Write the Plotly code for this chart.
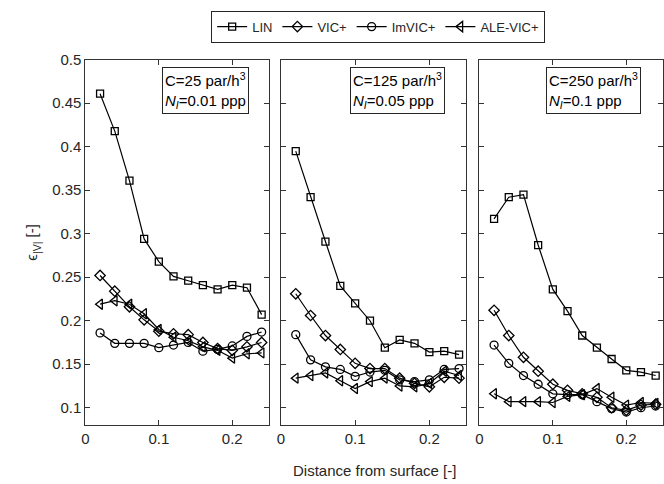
import plotly.graph_objects as go

x_vals = [0.02, 0.04, 0.06, 0.08, 0.10, 0.12, 0.14, 0.16, 0.18, 0.20, 0.22, 0.24]
series_names = ["LIN", "VIC+", "ImVIC+", "ALE-VIC+"]

# Panel 1: C=25 par/h^3, N_I=0.01 ppp
p1_lin = [0.461, 0.418, 0.361, 0.294, 0.268, 0.251, 0.246, 0.241, 0.236, 0.241, 0.238, 0.207]
p1_vic = [0.252, 0.234, 0.216, 0.201, 0.188, 0.185, 0.184, 0.175, 0.168, 0.166, 0.170, 0.175]
p1_imvic = [0.186, 0.174, 0.174, 0.174, 0.169, 0.172, 0.175, 0.165, 0.167, 0.171, 0.182, 0.187]
p1_ale = [0.219, 0.223, 0.219, 0.208, 0.190, 0.181, 0.177, 0.170, 0.166, 0.157, 0.162, 0.163]

# Panel 2: C=125 par/h^3, N_I=0.05 ppp
p2_lin = [0.395, 0.342, 0.291, 0.240, 0.220, 0.200, 0.169, 0.178, 0.174, 0.164, 0.165, 0.161]
p2_vic = [0.231, 0.206, 0.183, 0.167, 0.151, 0.145, 0.145, 0.134, 0.128, 0.124, 0.135, 0.134]
p2_imvic = [0.184, 0.155, 0.147, 0.144, 0.136, 0.141, 0.143, 0.132, 0.130, 0.132, 0.144, 0.145]
p2_ale = [0.134, 0.137, 0.140, 0.131, 0.122, 0.130, 0.134, 0.125, 0.124, 0.128, 0.142, 0.137]

# Panel 3: C=250 par/h^3, N_I=0.1 ppp
p3_lin = [0.317, 0.342, 0.345, 0.287, 0.236, 0.211, 0.183, 0.169, 0.156, 0.143, 0.141, 0.137]
p3_vic = [0.212, 0.183, 0.158, 0.142, 0.127, 0.120, 0.116, 0.112, 0.100, 0.097, 0.103, 0.104]
p3_imvic = [0.172, 0.151, 0.137, 0.127, 0.116, 0.115, 0.115, 0.107, 0.099, 0.095, 0.100, 0.102]
p3_ale = [0.116, 0.107, 0.107, 0.107, 0.106, 0.113, 0.115, 0.122, 0.112, 0.103, 0.106, 0.105]

panels = [
    [p1_lin, p1_vic, p1_imvic, p1_ale],
    [p2_lin, p2_vic, p2_imvic, p2_ale],
    [p3_lin, p3_vic, p3_imvic, p3_ale],
]
panel_labels = [
    "C=25 par/h<sup>3</sup><br><i>N<sub>I</sub></i>=0.01 ppp",
    "C=125 par/h<sup>3</sup><br><i>N<sub>I</sub></i>=0.05 ppp",
    "C=250 par/h<sup>3</sup><br><i>N<sub>I</sub></i>=0.1 ppp",
]
x_ticks = [0, 0.1, 0.2]
x_tick_text = ["0", "0.1", "0.2"]
y_ticks = [0.1, 0.15, 0.2, 0.25, 0.3, 0.35, 0.4, 0.45, 0.5]
y_tick_text = ["0.1", "0.15", "0.2", "0.25", "0.3", "0.35", "0.4", "0.45", "0.5"]

symbols = ["square-open", "diamond-open", "circle-open", "triangle-left-open"]
marker_sizes = [7, 8, 8, 9]

W, H = 664, 484
x_domains = [(82 / W, 267 / W), (279 / W, 466 / W), (479 / W, 1.0)]
y_domain = (1 - 424 / H, 1 - 51.7 / H)
axis_color = "#333333"
font_family = "Liberation Sans, Arial, sans-serif"

fig = go.Figure()
for pi, series in enumerate(panels):
    xa = "x" if pi == 0 else f"x{pi+1}"
    ya = "y" if pi == 0 else f"y{pi+1}"
    for si, vals in enumerate(series):
        fig.add_trace(go.Scatter(
            x=x_vals, y=vals, mode="lines+markers",
            name=series_names[si], showlegend=(pi == 0),
            line=dict(color="black", width=1.2),
            marker=dict(symbol=symbols[si], size=marker_sizes[si], color="black",
                        line=dict(color="black", width=1.3)),
            xaxis=xa, yaxis=ya, cliponaxis=True,
        ))

layout = dict(
    width=W, height=H,
    margin=dict(l=0, r=0, t=0, b=0),
    paper_bgcolor="white", plot_bgcolor="white",
    font=dict(family=font_family, size=15, color="#262626"),
    showlegend=True,
    legend=dict(orientation="h", x=377 / W, xanchor="center", y=1 - 18 / H, yanchor="middle",
                bordercolor="#262626", borderwidth=1, font=dict(size=13, color="#262626"),
                itemwidth=30, tracegroupgap=0),
)
for pi in range(3):
    xk = "xaxis" if pi == 0 else f"xaxis{pi+1}"
    yk = "yaxis" if pi == 0 else f"yaxis{pi+1}"
    anchor_y = "y" if pi == 0 else f"y{pi+1}"
    anchor_x = "x" if pi == 0 else f"x{pi+1}"
    layout[xk] = dict(domain=list(x_domains[pi]), range=[0, 0.25], anchor=anchor_y,
                      tickvals=x_ticks, ticktext=x_tick_text, ticks="inside", ticklen=5,
                      tickcolor=axis_color, showline=True, linecolor=axis_color, linewidth=1,
                      mirror="ticks", showgrid=False, zeroline=False,
                      tickfont=dict(size=15, color="#262626"))
    layout[yk] = dict(domain=list(y_domain), range=[0.08, 0.5], anchor=anchor_x,
                      tickvals=y_ticks, ticktext=y_tick_text, ticks="inside", ticklen=5,
                      tickcolor=axis_color, showline=True, linecolor=axis_color, linewidth=1,
                      mirror="ticks", showgrid=False, zeroline=False,
                      showticklabels=(pi == 0),
                      tickfont=dict(size=15, color="#262626"))
layout["yaxis"]["title"] = dict(text="ϵ<sub>|V|</sub> [-]", font=dict(size=15, color="#262626"), standoff=10)
fig.update_layout(**layout)

box_left = [159, 349, 546]
for pi in range(3):
    fig.add_annotation(
        text=panel_labels[pi], xref="paper", yref="paper",
        x=box_left[pi] / W, y=1 - 59 / H, xanchor="left", yanchor="top",
        showarrow=False, align="left", bgcolor="white",
        bordercolor="#262626", borderwidth=1, borderpad=2,
        font=dict(size=15, color="black"),
    )

fig.add_annotation(text="Distance from surface [-]", xref="paper", yref="paper",
                   x=373 / W, y=1 - 470 / H, xanchor="center", yanchor="middle",
                   showarrow=False, font=dict(size=15, color="#262626"))

fig.write_html("out.html")
